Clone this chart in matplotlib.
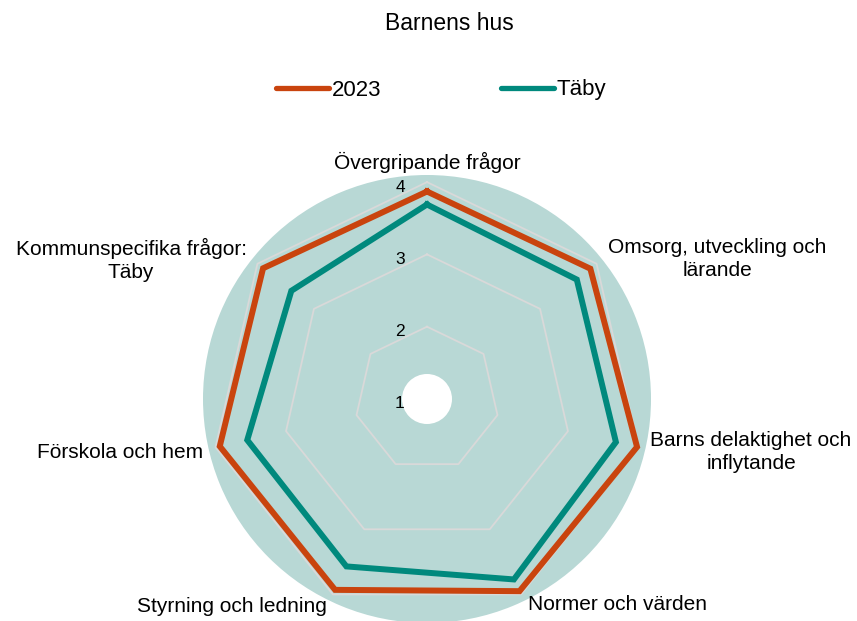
import numpy as np
import matplotlib
matplotlib.use('Agg')
import matplotlib.pyplot as plt
from matplotlib.lines import Line2D
from matplotlib.patches import Circle

plt.rcParams['font.family'] = ['Liberation Sans', 'DejaVu Sans']

kategorier = ['Övergripande frågor', 'Omsorg, utveckling och\nlärande',
              'Barns delaktighet och\ninflytande', 'Normer och värden',
              'Styrning och ledning', 'Förskola och hem',
              'Kommunspecifika frågor:\nTäby']
varden_2023 = [3.87, 3.89, 3.98, 3.95, 3.93, 3.94, 3.90]
varden_taby = [3.69, 3.65, 3.68, 3.77, 3.57, 3.55, 3.40]
skala = [1, 2, 3, 4]

orange = '#C9440E'
teal = '#00897D'
bakgrund = '#B8D8D5'
rutnat = '#D9D9D9'

W, H = 857, 621
fig = plt.figure(figsize=(W / 100, H / 100), dpi=100)

# polar axes placed so the circle centre is at (427, 399) px, radius 224 px
cx, cy, rad = 427, 399, 224
ax = fig.add_axes([(cx - rad) / W, (H - cy - rad) / H, 2 * rad / W, 2 * rad / H],
                  projection='polar')
ax.set_theta_zero_location('N')
ax.set_theta_direction(-1)
ax.set_facecolor(bakgrund)
ax.spines['polar'].set_visible(False)
ax.grid(False)
ax.set_xticks([])
ax.set_yticks([])
ax.set_ylim(1, 1 + rad / 72.3)

n = len(kategorier)
vinklar = np.linspace(0, 2 * np.pi, n, endpoint=False)
slutna = np.append(vinklar, vinklar[0])

# heptagon grid
for v in skala[1:]:
    ax.plot(slutna, [v] * (n + 1), color=rutnat, lw=1.3, zorder=2)

ax.plot(slutna, varden_taby + varden_taby[:1], color=teal, lw=4.3,
        solid_joinstyle='miter', zorder=3)
ax.plot(slutna, varden_2023 + varden_2023[:1], color=orange, lw=4.3,
        solid_joinstyle='miter', zorder=3)

ax.add_patch(Circle((0.5, 0.5), 25 / (2 * rad), transform=ax.transAxes,
                    facecolor='white', edgecolor='none', zorder=4))

for v in skala:
    ax.annotate(str(v), xy=(0, v), xytext=(-27, -5), textcoords='offset pixels',
                ha='center', va='center', fontsize=12.5, zorder=5)

# category labels (pixel positions of label centres)
etikett_pos = [(427, 162), (717, 259), (751, 452), (618, 605),
               (232, 606), (120, 452), (131, 260)]
for txt, (x, y) in zip(kategorier, etikett_pos):
    fig.text(x / W, 1 - y / H, txt, ha='center', va='center', fontsize=15,
             linespacing=1.3)

fig.text(449 / W, 1 - 24 / H, 'Barnens hus', ha='center', va='center',
         fontsize=16.5)

handtag = [Line2D([], [], color=orange, lw=3.8, solid_capstyle='round'),
           Line2D([], [], color=teal, lw=3.8, solid_capstyle='round')]
fig.legend(handtag, ['2023', 'Täby'], loc='center', ncol=2,
           bbox_to_anchor=(441 / W, 1 - 90 / H), frameon=False, fontsize=16,
           handlelength=2.4, handletextpad=0.1, columnspacing=5.4)

fig.savefig('out.png', dpi=100)
